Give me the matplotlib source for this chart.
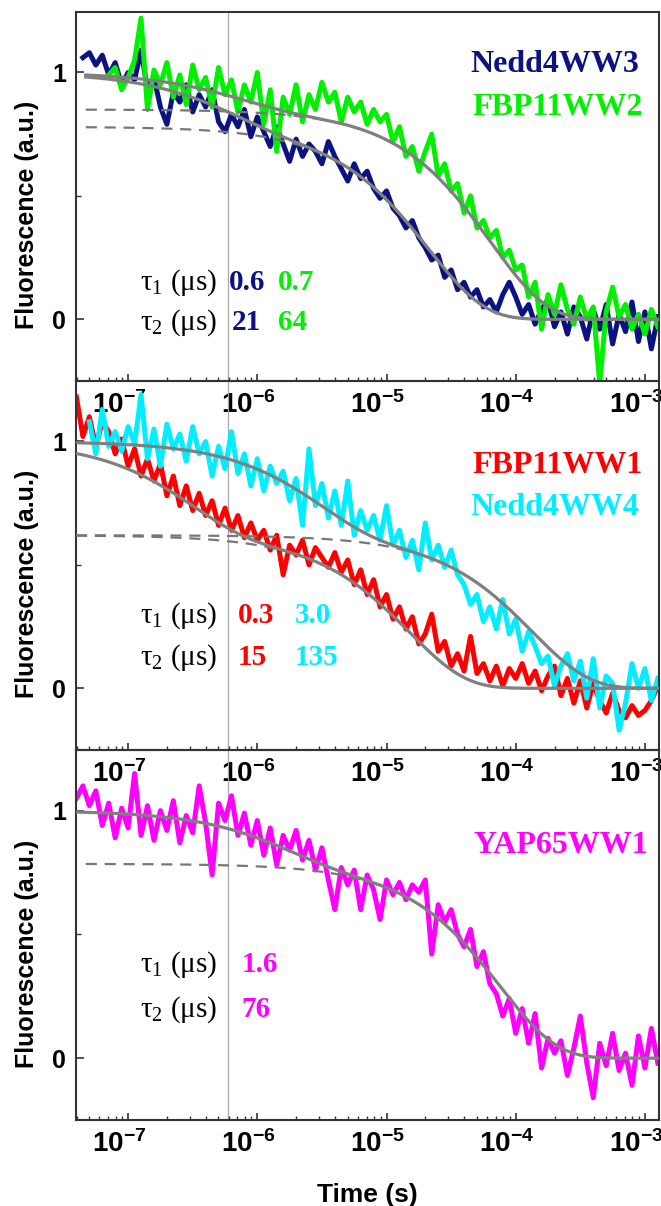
import numpy as np
import matplotlib
matplotlib.use('Agg')
import matplotlib.pyplot as plt
import matplotlib.transforms as mtransforms
from matplotlib.ticker import LogLocator, FuncFormatter, NullFormatter, FixedLocator

plt.rcParams['font.family'] = ['Liberation Sans', 'DejaVu Sans']
plt.rcParams['mathtext.fontset'] = 'custom'
plt.rcParams['mathtext.rm'] = 'Liberation Serif'
plt.rcParams['mathtext.it'] = 'Liberation Serif:italic'
plt.rcParams['mathtext.bf'] = 'Liberation Sans:bold'

nan = np.nan

# ---------------- data ----------------
# time grid of the traces: log10(t/s) from -7.40 in steps of 0.05 (91 points)
log_t_start = -7.40
log_t_step = 0.05
n_points = 91

nedd4ww3 = [nan, 1.06, 1.08, 1.03, 1.07, 0.99, 1.04, 0.95, 1.00, 0.97,
            1.09, 0.93, 0.98, 0.86, 0.79, 0.92, 0.88, 0.95, 0.84, 0.91,
            0.86, 0.93, 0.80, 0.76, 0.83, 0.78, 0.85, 0.74, 0.82, 0.76,
            0.70, 0.78, 0.71, 0.64, 0.73, 0.66, 0.71, 0.68, 0.63, 0.72,
            0.66, 0.61, 0.56, 0.63, 0.57, 0.60, 0.53, 0.49, 0.52, 0.45,
            0.42, 0.37, 0.40, 0.33, 0.29, 0.24, 0.26, 0.17, 0.20, 0.12,
            0.15, 0.09, 0.12, 0.05, 0.08, 0.03, 0.10, 0.15, 0.09, 0.02,
            0.06, -0.02, 0.04, 0.08, -0.03, 0.03, -0.06, 0.05, 0.01, -0.08,
            0.04, -0.04, 0.06, -0.10, 0.02, -0.05, 0.07, -0.09, 0.03, -0.12,
            0.01]
fbp11ww2 = [nan, nan, nan, nan, nan, 0.99, 1.02, 0.93, 0.98, 1.05,
            1.22, 0.85, 1.01, 0.95, 1.04, 0.90, 0.99, 0.87, 1.03, 0.93,
            0.98, 0.86, 1.02, 0.91, 0.97, 0.84, 0.95, 0.88, 1.00, 0.79,
            0.93, 0.68, 0.90, 0.83, 0.95, 0.80, 0.91, 0.85, 0.96, 0.88,
            0.92, 0.80, 0.90, 0.84, 0.88, 0.79, 0.85, 0.80, 0.83, 0.72,
            0.78, 0.66, 0.70, 0.60, 0.68, 0.75, 0.58, 0.63, 0.52, 0.55,
            0.43, 0.50, 0.37, 0.40, 0.33, 0.36, 0.25, 0.28, 0.20, 0.22,
            0.09, 0.15, -0.04, 0.10, 0.02, 0.14, 0.04, -0.02, 0.09, 0.00,
            0.05, -0.26, 0.03, 0.13, 0.01, 0.06, -0.04, 0.02, -0.06, 0.04,
            -0.03]
fbp11ww1 = [1.18, 1.02, 1.10, 0.98, 1.08, 1.04, 0.95, 1.01, 0.90, 0.97,
            0.86, 0.93, 0.84, 0.91, 0.78, 0.86, 0.74, 0.82, 0.72, 0.79,
            0.70, 0.76, 0.66, 0.73, 0.64, 0.70, 0.61, 0.67, 0.60, 0.64,
            0.56, 0.62, 0.46, 0.58, 0.54, 0.60, 0.50, 0.57, 0.53, 0.49,
            0.55, 0.47, 0.52, 0.42, 0.48, 0.38, 0.44, 0.33, 0.38, 0.28,
            0.33, 0.24, 0.29, 0.18, 0.22, 0.30, 0.15, 0.19, 0.09, 0.14,
            0.07, 0.21, 0.06, 0.10, 0.03, 0.09, 0.01, 0.08, 0.04, 0.10,
            0.02, 0.07, -0.01, 0.05, 0.09, -0.03, 0.04, -0.06, 0.03, -0.08,
            0.02, -0.05, -0.10, -0.02, -0.09, -0.12, -0.07, -0.11, -0.09, -0.05,
            0.01]
nedd4ww4 = [nan, nan, 1.08, 0.95, 1.13, 0.98, 1.04, 0.96, 1.06, 0.99,
            1.19, 0.93, 1.05, 0.90, 1.07, 0.97, 1.03, 0.92, 1.06, 0.95,
            1.00, 0.86, 0.98, 0.89, 1.04, 0.87, 0.95, 0.82, 0.93, 0.80,
            0.90, 0.83, 0.88, 0.76, 0.85, 0.66, 0.97, 0.74, 0.83, 0.69,
            0.80, 0.66, 0.84, 0.62, 0.72, 0.64, 0.70, 0.60, 0.74, 0.58,
            0.64, 0.53, 0.60, 0.48, 0.67, 0.52, 0.58, 0.49, 0.56, 0.46,
            0.42, 0.34, 0.38, 0.27, 0.33, 0.24, 0.36, 0.22, 0.28, 0.15,
            0.23, 0.17, 0.10, 0.13, 0.01, 0.09, 0.14, 0.03, 0.11, -0.04,
            0.12, -0.08, 0.05, 0.02, -0.17, -0.06, 0.10, 0.00, 0.08, -0.05,
            0.04]
yap65ww1 = [1.05, 1.10, 1.02, 1.08, 0.94, 1.03, 0.89, 1.01, 0.93, 1.15,
            0.90, 1.02, 0.88, 1.00, 0.92, 1.04, 0.87, 0.98, 0.91, 1.10,
            0.95, 0.74, 1.03, 0.96, 1.06, 0.90, 0.99, 0.86, 0.96, 0.82,
            0.93, 0.78, 0.90, 0.84, 0.92, 0.80, 0.88, 0.76, 0.85, 0.72,
            0.60, 0.77, 0.70, 0.76, 0.60, 0.74, 0.68, 0.56, 0.72, 0.66,
            0.71, 0.64, 0.70, 0.67, 0.72, 0.42, 0.62, 0.55, 0.60, 0.50,
            0.45, 0.52, 0.37, 0.43, 0.30, 0.26, 0.17, 0.24, 0.10, 0.20,
            0.06, 0.18, -0.04, 0.08, 0.02, 0.07, -0.07, 0.04, 0.17, -0.02,
            -0.16, 0.06, -0.03, 0.10, -0.05, 0.02, -0.11, 0.09, -0.04, 0.12,
            -0.02]

# double-exponential fit parameters: (A1, tau1 [us], A2, tau2 [us])
fit_nedd4ww3 = (0.22, 0.6, 0.78, 21)
fit_fbp11ww2 = (0.15, 0.7, 0.85, 64)
fit_fbp11ww1 = (0.38, 0.3, 0.62, 15)
fit_nedd4ww4 = (0.38, 3.0, 0.62, 135)
fit_yap65ww1 = (0.215, 1.6, 0.785, 76)

names = [['Nedd4WW3', 'FBP11WW2'], ['FBP11WW1', 'Nedd4WW4'], ['YAP65WW1']]
tau1_labels = [['0.6', '0.7'], ['0.3', '3.0'], ['1.6']]
tau2_labels = [['21', '64'], ['15', '135'], ['76']]

xticks = [1e-7, 1e-6, 1e-5, 1e-4, 1e-3]
yticks = [0, 1]
xlim = (3.95e-8, 1.285e-3)
ylim = (-0.25, 1.245)
marker_time = 5.96e-7

# ---------------- styling ----------------
C_NAVY = '#0b1282'
C_GREEN = '#00f000'
C_RED = '#ff0000'
C_CYAN = '#00eeff'
C_MAG = '#ff00ff'
C_FIT = '#808080'

time_s = 10 ** (log_t_start + log_t_step * np.arange(n_points))

panels = [
    dict(traces=[(nedd4ww3, fit_nedd4ww3, C_NAVY), (fbp11ww2, fit_fbp11ww2, C_GREEN)],
         fit_start=4.7e-8, dash_start=4.7e-8,
         name_pos=[(0.966, 0.837), (0.972, 0.721)],
         tau_y=(0.247, 0.138), tau_x=[(0.263, 0.268), (0.346, 0.346)]),
    dict(traces=[(fbp11ww1, fit_fbp11ww1, C_RED), (nedd4ww4, fit_nedd4ww4, C_CYAN)],
         fit_start=3.95e-8, dash_start=3.95e-8,
         name_pos=[(0.972, 0.751), (0.966, 0.637)],
         tau_y=(0.344, 0.230), tau_x=[(0.277, 0.277), (0.375, 0.375)]),
    dict(traces=[(yap65ww1, fit_yap65ww1, C_MAG)],
         fit_start=3.95e-8, dash_start=4.7e-8,
         name_pos=[(0.981, 0.722)],
         tau_y=(0.400, 0.278), tau_x=[(0.284, 0.284)]),
]

W, H = 661, 1206
fig = plt.figure(figsize=(W / 100, H / 100), dpi=100)

left = 76 / W
width = (659 - 76) / W
bounds = [(12, 381), (381, 750), (750, 1120)]

fmt = FuncFormatter(lambda v, pos: r'$\mathbf{10^{%d}}$' % int(round(np.log10(v))))
label_shift = mtransforms.ScaledTranslation(-9 / 100, 0, fig.dpi_scale_trans)

axes = []
for k, (top, bot) in enumerate(bounds):
    ax = fig.add_axes([left, 1 - bot / H, width, (bot - top) / H])
    ax.set_facecolor('none')
    axes.append(ax)
    p = panels[k]
    ax.set_xscale('log')
    ax.set_xlim(*xlim)
    ax.set_ylim(*ylim)

    ax.axvline(marker_time, color='#a8a8a8', lw=0.9, zorder=0.5)

    t_fit = np.logspace(np.log10(p['fit_start']), np.log10(1.3e-3), 500)
    t_dash = np.logspace(np.log10(p['dash_start']), np.log10(1.3e-3), 500)
    for data, fit, col in p['traces']:
        ax.plot(time_s, data, color=col, lw=3.6, solid_joinstyle='round', zorder=2)
    for data, fit, col in p['traces']:
        a1, tau1, a2, tau2 = fit
        ax.plot(t_dash, a2 * np.exp(-t_dash * 1e6 / tau2), color='#777777', lw=1.6,
                ls=(0, (5, 3.5)), zorder=3)
        tt = t_fit * 1e6
        ax.plot(t_fit, a1 * np.exp(-tt / tau1) + a2 * np.exp(-tt / tau2),
                color=C_FIT, lw=2.3, zorder=4)

    # name labels
    for (nx, ny), nm, (_, _, col) in zip(p['name_pos'], names[k], p['traces']):
        ax.text(nx, ny, nm, transform=ax.transAxes, ha='right', va='baseline',
                fontsize=23, fontweight='bold', family='Liberation Serif', color=col)

    # tau annotations
    ty1, ty2 = p['tau_y']
    ax.text(0.243, ty1, r'$\mathrm{\tau_1}$ (μs)', transform=ax.transAxes, ha='right',
            va='baseline', fontsize=21, family='Liberation Serif', color='black')
    ax.text(0.243, ty2, r'$\mathrm{\tau_2}$ (μs)', transform=ax.transAxes, ha='right',
            va='baseline', fontsize=21, family='Liberation Serif', color='black')
    for (x1, x2), l1, l2, (_, _, col) in zip(p['tau_x'], tau1_labels[k], tau2_labels[k], p['traces']):
        ax.text(x1, ty1, l1, transform=ax.transAxes, ha='left', va='baseline',
                fontsize=21, fontweight='bold', family='Liberation Serif', color=col)
        ax.text(x2, ty2, l2, transform=ax.transAxes, ha='left', va='baseline',
                fontsize=21, fontweight='bold', family='Liberation Serif', color=col)

    # axes / ticks
    ax.xaxis.set_major_locator(FixedLocator(xticks))
    ax.xaxis.set_minor_locator(LogLocator(base=10, subs=np.arange(2, 10), numticks=20))
    ax.xaxis.set_major_formatter(fmt)
    ax.xaxis.set_minor_formatter(NullFormatter())
    ax.set_yticks(yticks)
    ax.set_yticks([0.5], minor=True)
    ax.set_yticklabels([str(v) for v in yticks])
    ax.tick_params(axis='x', which='major', direction='in', length=5, width=1.2,
                   labelsize=20, pad=7, top=False, colors='#333333', labelcolor='black')
    ax.tick_params(axis='x', which='minor', direction='in', length=3, width=1.0,
                   top=False, colors='#333333')
    ax.tick_params(axis='y', which='major', direction='in', length=6, width=1.2,
                   labelsize=18, pad=7, right=False, colors='#333333', labelcolor='black')
    ax.tick_params(axis='y', which='minor', direction='in', length=3.5, width=1.0,
                   right=False, colors='#333333')
    for lab in ax.get_yticklabels():
        lab.set_fontweight('bold')
    for lab in ax.xaxis.get_majorticklabels():
        lab.set_transform(lab.get_transform() + label_shift)
    for sp in ax.spines.values():
        sp.set_linewidth(1.5)
        sp.set_color('#333333')
    ax.set_ylabel('Fluorescence (a.u.)', fontsize=18, fontweight='bold')
    ax.yaxis.set_label_coords(-0.064, 0.45)

axes[-1].set_xlabel('Time (s)', fontsize=19, fontweight='bold', labelpad=18)

fig.savefig('out.png', dpi=100)
